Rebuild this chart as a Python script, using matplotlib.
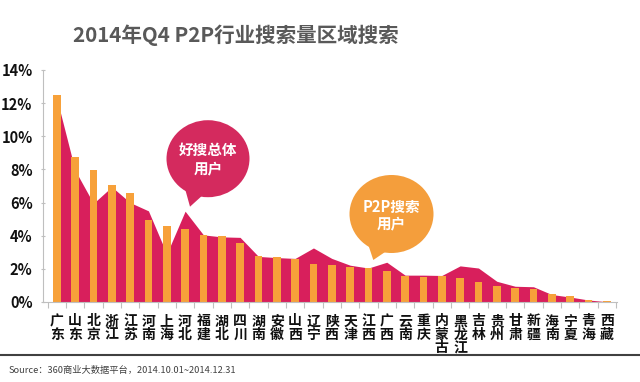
import matplotlib
matplotlib.use("Agg")
import matplotlib.pyplot as plt
import numpy as np
from matplotlib.patches import Ellipse, Polygon
from matplotlib.lines import Line2D
from matplotlib.ticker import FuncFormatter, FixedLocator

plt.rcParams['font.family'] = ['Noto Sans CJK SC', 'DejaVu Sans']

# data (share of search volume, %)
provinces = ['广东', '山东', '北京', '浙江', '江苏', '河南', '上海', '河北', '福建', '湖北',
             '四川', '湖南', '安徽', '山西', '辽宁', '陕西', '天津', '江西', '广西', '云南',
             '重庆', '内蒙古', '黑龙江', '吉林', '贵州', '甘肃', '新疆', '海南', '宁夏', '青海', '西藏']
haosou_users = [12.3, 7.95, 5.95, 6.95, 6.0, 5.5, 2.9, 5.48, 4.05, 3.93,
                3.9, 2.75, 2.68, 2.63, 3.26, 2.63, 2.22, 2.05, 2.4, 1.62,
                1.62, 1.6, 2.18, 2.05, 1.25, 0.95, 0.92, 0.45, 0.3, 0.12, 0.02]
p2p_users = [12.5, 8.78, 7.97, 7.06, 6.58, 4.96, 4.57, 4.43, 4.07, 3.99,
             3.54, 2.79, 2.73, 2.59, 2.31, 2.23, 2.12, 2.08, 1.88, 1.54,
             1.50, 1.54, 1.44, 1.19, 0.99, 0.83, 0.77, 0.49, 0.38, 0.14, 0.04]
yticks = [0, 2, 4, 6, 8, 10, 12, 14]

title = '2014年Q4 P2P行业搜索量区域搜索'
source = 'Source：360商业大数据平台，2014.10.01~2014.12.31'

magenta = '#D81F5C'
orange = '#F7A13A'

W, H = 640, 382
fig = plt.figure(figsize=(6.4, 3.82), dpi=100)

ax = fig.add_axes([43 / W, 1 - 302 / H, (616.7 - 43) / W, (302 - 70) / H])
x = np.arange(len(provinces))
ax.fill_between(x, haosou_users, 0, color=magenta, lw=0, zorder=1)
ax.bar(x, p2p_users, width=0.42, color=orange, zorder=2)

ax.set_xlim(-0.75, 30.54)
ax.set_ylim(0, 14)
ax.set_yticks(yticks)
ax.yaxis.set_major_formatter(FuncFormatter(lambda v, p: '%d%%' % v))
for s in ['top', 'right']:
    ax.spines[s].set_visible(False)
for s in ['left', 'bottom']:
    ax.spines[s].set_color('#BFBFBF')
    ax.spines[s].set_linewidth(0.8)
ax.tick_params(axis='y', length=3, direction='inout', color='#BFBFBF', pad=6,
               labelsize=10.5, labelcolor='#111111')
for lab in ax.get_yticklabels():
    lab.set_fontweight('bold')

ax.set_xticks(x)
ax.set_xticklabels(['\n'.join(p) for p in provinces], fontsize=10, fontweight='bold',
                   color='#111111', linespacing=0.95, va='top')
ax.tick_params(axis='x', which='major', length=0, pad=9)
ax.xaxis.set_minor_locator(FixedLocator(np.arange(-0.5, len(provinces), 1)))
ax.tick_params(axis='x', which='minor', length=4, color='#BFBFBF', width=0.8)

# title, rule and source
fig.text(73 / W, 1 - 35 / H, title, fontsize=14.8, fontweight='bold', color='#595959',
         ha='left', va='center')
fig.add_artist(Line2D([0, 1], [1 - 354.5 / H, 1 - 354.5 / H], transform=fig.transFigure,
                      color='#404040', lw=1.5))
fig.text(9 / W, 1 - 371 / H, source, fontsize=6.7, color='#404040', ha='left', va='center')

# speech bubbles
ov = fig.add_axes([0, 0, 1, 1], zorder=5)
ov.set_xlim(0, W)
ov.set_ylim(H, 0)
ov.axis('off')
ov.patch.set_alpha(0)

ov.add_patch(Ellipse((208, 158.7), 83, 77, color='#D42A5E', lw=0))
ov.add_patch(Polygon([(184, 185), (190, 206.7), (204, 194)], closed=True, color='#D42A5E', lw=0))
ov.text(208, 159.5, '好搜总体\n用户', color='white', fontsize=10.5, fontweight='bold',
        ha='center', va='center', linespacing=1.2)

ov.add_patch(Ellipse((391.5, 214), 84, 78, color='#F49E3C', lw=0))
ov.add_patch(Polygon([(368, 244), (373.3, 260), (388, 250)], closed=True, color='#F49E3C', lw=0))
ov.text(391.5, 215, 'P2P搜索\n用户', color='white', fontsize=10.5, fontweight='bold',
        ha='center', va='center', linespacing=1.05)

fig.savefig('out.png', dpi=100)
